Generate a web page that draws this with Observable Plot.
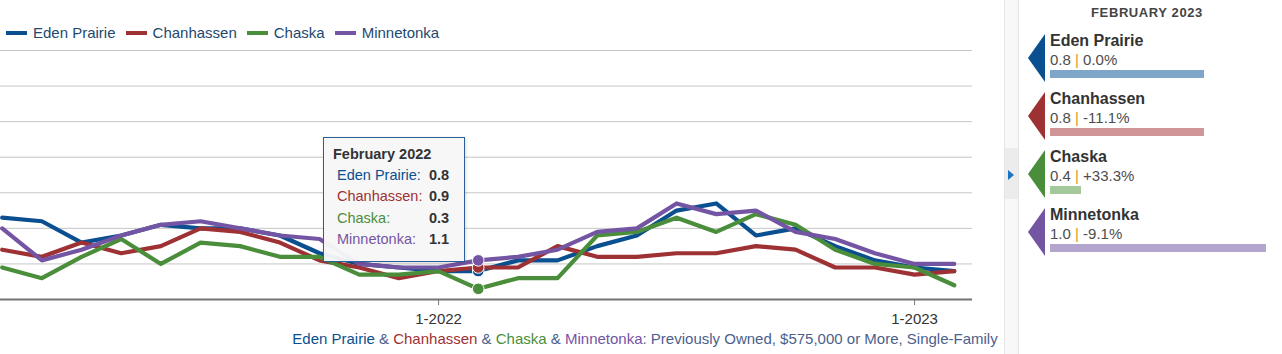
<!DOCTYPE html>
<html><head><meta charset="utf-8">
<script src="https://cdn.jsdelivr.net/npm/d3@7"></script>
<script src="https://cdn.jsdelivr.net/npm/@observablehq/plot@0.6"></script>
<style>
html,body{margin:0;padding:0;background:#fff;}
body{width:1282px;height:354px;overflow:hidden;position:relative;font-family:"Liberation Sans",Arial,sans-serif;}
.abs{position:absolute;white-space:nowrap;line-height:1;}
</style></head><body>
<div id="chart" style="position:absolute;left:0;top:0;"></div>
<script>
// ---------- data ----------
const months = ["2-2021","3-2021","4-2021","5-2021","6-2021","7-2021","8-2021","9-2021","10-2021","11-2021","12-2021",
  "1-2022","2-2022","3-2022","4-2022","5-2022","6-2022","7-2022","8-2022","9-2022","10-2022","11-2022","12-2022",
  "1-2023","2-2023"];
const seriesNames = ["Eden Prairie","Chanhassen","Chaska","Minnetonka"];
const edenPrairie = [2.3,2.2,1.6,1.8,2.1,2.0,2.0,1.8,1.3,1.0,0.9,0.8,0.8,1.1,1.1,1.5,1.8,2.5,2.7,1.8,2.0,1.5,1.1,0.9,0.8];
const chanhassen  = [1.4,1.2,1.6,1.3,1.5,2.0,1.9,1.6,1.1,0.9,0.6,0.8,0.9,0.9,1.5,1.2,1.2,1.3,1.3,1.5,1.4,0.9,0.9,0.7,0.8];
const chaska      = [0.9,0.6,1.2,1.7,1.0,1.6,1.5,1.2,1.2,0.7,0.7,0.8,0.3,0.6,0.6,1.8,1.9,2.3,1.9,2.4,2.1,1.4,1.0,0.9,0.4];
const minnetonka  = [2.0,1.1,1.4,1.8,2.1,2.2,2.0,1.8,1.7,1.0,0.9,0.9,1.1,1.2,1.4,1.9,2.0,2.7,2.4,2.5,1.9,1.7,1.3,1.0,1.0];
const seriesColors = ["#0a4f8f","#9e3134","#4a8e3b","#7455a3"];
const barColors = ["#7fa6c8","#cf9597","#a3c99b","#b4a5cf"];
const tickMonths = ["1-2022","1-2023"];
const gridValues = [1,2,3,4,5,6,7];
const tooltipMonth = "2-2022";
const tooltipTitle = "February 2022";
const panelTitle = "FEBRUARY 2023";
const captionTail = ": Previously Owned, $575,000 or More, Single-Family";

const seriesValues = [edenPrairie, chanhassen, chaska, minnetonka];
const rows = [];
seriesValues.forEach((vals, s) => vals.forEach((v, i) => rows.push({i, month: months[i], series: seriesNames[s], value: v})));
const tipIndex = months.indexOf(tooltipMonth);
const lastIndex = months.length - 1;
const tickIdx = tickMonths.map(m => months.indexOf(m));

// ---------- chart ----------
const plot = Plot.plot({
  width: 1005, height: 354,
  marginLeft: 0, marginRight: 33, marginTop: 50, marginBottom: 55,
  style: {fontFamily: "Liberation Sans, Arial, sans-serif", fontSize: "15px", background: "transparent"},
  x: {type: "linear", domain: [-0.043, 24.46], axis: null},
  y: {domain: [0, 7], axis: null},
  color: {domain: seriesNames, range: seriesColors},
  marks: [
    Plot.ruleY(gridValues, {stroke: "#c6c6c6", strokeWidth: 1}),
    Plot.axisX(tickIdx, {tickFormat: i => months[i], tickSize: 6, tickPadding: 8, stroke: "#777", fill: "#333", fontSize: 15, label: null}),
    Plot.ruleY([0], {stroke: "#737373", strokeWidth: 2}),
    Plot.line(rows, {x: "i", y: "value", z: "series", stroke: "series", strokeWidth: 4.2, strokeLinejoin: "round"}),
    Plot.dot(rows.filter(d => d.i === tipIndex), {x: "i", y: "value", fill: "series", stroke: "#fff", strokeWidth: 1, r: 5.8})
  ]
});
document.getElementById("chart").appendChild(plot);

// ---------- html helpers ----------
function el(tag, css, text) {
  const e = document.createElement(tag);
  if (css) e.style.cssText = css;
  if (text != null) e.textContent = text;
  return e;
}
function place(x, baseline, size, css, text) {
  const e = el("div", `left:${x}px;top:${baseline - 0.8465*size}px;font-size:${size}px;` + (css||""), text);
  e.className = "abs";
  document.body.appendChild(e);
  return e;
}

// ---------- legend ----------
const legend = el("div", "position:absolute;left:6px;top:25px;display:flex;align-items:center;font-size:15px;line-height:16px;color:#22476f;white-space:nowrap;");
seriesNames.forEach((n, s) => {
  const item = el("div", "display:flex;align-items:center;margin-right:10px;");
  item.appendChild(el("span", `display:inline-block;width:21px;height:4px;background:${seriesColors[s]};margin-right:6px;`));
  item.appendChild(el("span", "", n));
  legend.appendChild(item);
});
document.body.appendChild(legend);

// ---------- tooltip ----------
const tip = el("div", "position:absolute;left:323px;top:137px;width:140px;height:123px;background:rgba(247,247,247,0.96);border:1px solid #2a5f97;box-shadow:1px 1px 3px rgba(0,0,0,0.15);");
document.body.appendChild(tip);
place(333, 159.5, 14.5, "font-weight:bold;color:#333;", tooltipTitle);
seriesNames.forEach((n, s) => {
  const b = 180 + s*21.5;
  place(337, b, 14.5, `color:${seriesColors[s]};`, n + ":");
  place(429, b, 14.5, "font-weight:bold;color:#333;", seriesValues[s][tipIndex].toFixed(1));
});

// ---------- caption ----------
const cap = el("div", "position:absolute;left:250px;width:790px;text-align:center;font-size:15px;line-height:1;white-space:nowrap;color:#4b5f8c;");
cap.style.top = (343.5 - 0.8465*15) + "px";
seriesNames.forEach((n, s) => {
  if (s > 0) cap.appendChild(el("span", "", " & "));
  cap.appendChild(el("span", `color:${seriesColors[s]};`, n));
});
cap.appendChild(el("span", "", captionTail));
document.body.appendChild(cap);

// ---------- separator ----------
document.body.appendChild(el("div", "position:absolute;left:1004px;top:0;width:13px;height:354px;background:#f8f8f8;border-left:1px solid #e4e4e4;border-right:1px solid #e4e4e4;"));
document.body.appendChild(el("div", "position:absolute;left:1005px;top:148px;width:13px;height:51px;background:#ececec;"));
document.body.appendChild(el("div", "position:absolute;left:1008px;top:170px;width:0;height:0;border-top:5px solid transparent;border-bottom:5px solid transparent;border-left:6px solid #1a73c2;"));

// ---------- right panel ----------
place(1147, 16.7, 13, "font-weight:bold;color:#444;letter-spacing:0.6px;transform:translateX(-50%);", panelTitle);
const barScale = d3.scaleLinear().domain([0.3, 1.0]).range([0, 216]);
seriesNames.forEach((n, s) => {
  const top = 34 + s*58;
  const v = seriesValues[s][lastIndex];
  const prev = seriesValues[s][lastIndex - 12];
  const pct = (v - prev) / prev * 100;
  const pctText = (pct > 0.05 ? "+" : "") + pct.toFixed(1) + "%";
  // arrow
  const arrow = el("div", `position:absolute;left:1028px;top:${top}px;width:0;height:0;border-top:24px solid transparent;border-bottom:24px solid transparent;border-right:17px solid ${seriesColors[s]};`);
  document.body.appendChild(arrow);
  place(1050, top + 12.7, 16, "font-weight:bold;color:#333;", n);
  const val = place(1050, top + 30.3, 15, "color:#4d4d4d;");
  val.appendChild(el("span", "", v.toFixed(1) + " "));
  val.appendChild(el("span", "color:#e0952e;", "|"));
  val.appendChild(el("span", "", " " + pctText));
  document.body.appendChild(el("div", `position:absolute;left:1050px;top:${top + 36}px;width:${barScale(v)}px;height:8px;background:${barColors[s]};`));
});
</script>
</body></html>
